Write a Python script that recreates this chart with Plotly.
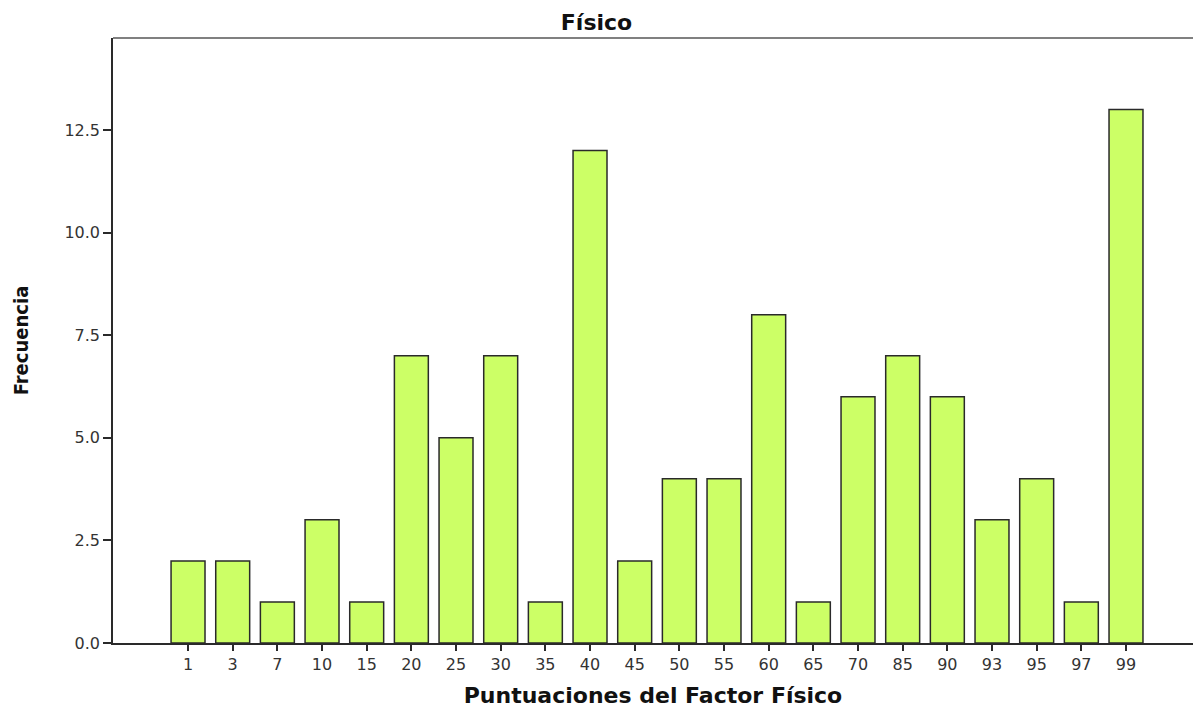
import plotly.graph_objects as go

categories = ["1", "3", "7", "10", "15", "20", "25", "30", "35", "40", "45",
              "50", "55", "60", "65", "70", "85", "90", "93", "95", "97", "99"]
frequencies = [2, 2, 1, 3, 1, 7, 5, 7, 1, 12, 2, 4, 4, 8, 1, 6, 7, 6, 3, 4, 1, 13]
y_ticks = [0, 2.5, 5, 7.5, 10, 12.5]
y_ticklabels = ["0.0", "2.5", "5.0", "7.5", "10.0", "12.5"]

positions = list(range(len(categories)))

fig = go.Figure()
fig.add_trace(go.Bar(
    x=positions, y=frequencies, width=0.76,
    marker=dict(color="#CCFF66", line=dict(color="#2a2a2a", width=1.5)),
))

WIDE = "DejaVu Sans, Verdana, sans-serif"

fig.update_layout(
    width=1193, height=709,
    margin=dict(l=113, r=0, t=38, b=66),
    paper_bgcolor="white", plot_bgcolor="white",
    showlegend=False,
    title=dict(text="<b>Físico</b>", x=0.5, xanchor="center", y=0.969, yanchor="middle",
               font=dict(family=WIDE, size=22, color="#111")),
    font=dict(family=WIDE, size=17, color="#333"),
)
fig.update_xaxes(
    range=[-1.68, 22.5], tickvals=positions, ticktext=categories,
    showline=True, linecolor="#2a2a2a", linewidth=1.5,
    ticks="outside", ticklen=6, tickwidth=1.5, tickcolor="#2a2a2a",
    showgrid=False, zeroline=False,
    tickfont=dict(family=WIDE, size=16, color="#333"),
    title=dict(text="<b>Puntuaciones del Factor Físico</b>", standoff=15,
               font=dict(family=WIDE, size=22, color="#111")),
)
fig.update_yaxes(
    range=[0, 14.74], tickvals=y_ticks, ticktext=y_ticklabels,
    showline=True, linecolor="#2a2a2a", linewidth=1.5,
    ticks="outside", ticklen=8, tickwidth=1.5, tickcolor="#2a2a2a",
    showgrid=False, zeroline=False,
    tickfont=dict(family=WIDE, size=16, color="#333"),
    title=dict(text="<b>Frecuencia</b>", standoff=30,
               font=dict(family="DejaVu Sans Condensed, Liberation Sans Narrow, sans-serif",
                         size=20, color="#111")),
)
fig.add_shape(type="line", xref="paper", yref="paper", x0=0, x1=1, y0=1, y1=1,
              line=dict(color="#808080", width=2))

fig.write_html("out.html", config={"displayModeBar": False},
               post_script="document.body.style.margin='0px';document.body.style.overflow='hidden';")
